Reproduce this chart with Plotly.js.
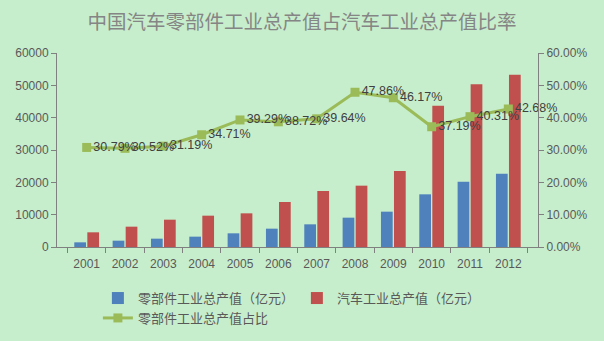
<!DOCTYPE html>
<html>
<head>
<meta charset="utf-8">
<script src="https://cdn.plot.ly/plotly-3.0.1.min.js"></script>
<style>html,body{margin:0;padding:0;background:#C7EECC;}#chart{width:604px;height:341px;}</style>
</head>
<body>
<div id="chart"></div>
<script>
const years = ['2001','2002','2003','2004','2005','2006','2007','2008','2009','2010','2011','2012'];
const partsOutput = [1440, 1960, 2580, 3200, 4230, 5670, 7010, 9070, 10930, 16290, 20210, 22680];
const autoOutput = [4540, 6290, 8450, 9690, 10410, 13920, 17320, 18970, 23510, 43710, 50310, 53300];
const shareRatio = [0.3079, 0.3052, 0.3119, 0.3471, 0.3929, 0.3872, 0.3964, 0.4786, 0.4617, 0.3719, 0.4031, 0.4268];
const shareLabels = ['30.79%','30.52%','31.19%','34.71%','39.29%','38.72%','39.64%','47.86%','46.17%','37.19%','40.31%','42.68%'];

const font = '"Noto Sans CJK SC", "Liberation Sans", sans-serif';
const grey = '#595959';

const data = [
  {type:'bar', name:'零部件工业总产值（亿元）', x:years, y:partsOutput, marker:{color:'#4F81BD'}},
  {type:'bar', name:'汽车工业总产值（亿元）', x:years, y:autoOutput, marker:{color:'#C0504D'}},
  {type:'scatter', mode:'lines+markers+text', name:'零部件工业总产值占比', x:years, y:shareRatio, yaxis:'y2',
   line:{color:'#9BBB59', width:3}, marker:{symbol:'square', size:9, color:'#9BBB59'},
   text:shareLabels, textposition:'middle right', textfont:{family:'"Liberation Sans", sans-serif', size:12.5, color:'#404040'}, cliponaxis:false}
];

const layout = {
  width:604, height:341,
  paper_bgcolor:'#C7EECC', plot_bgcolor:'#C7EECC',
  margin:{l:57, r:66, t:53, b:94, autoexpand:false},
  font:{family:font, color:grey, size:12},
  title:{text:'中国汽车零部件工业总产值占汽车工业总产值比率', x:0.5, xanchor:'center', y:0.935, yanchor:'middle',
         font:{family:font, size:19.5, color:'#858585'}},
  barmode:'group', bargap:0.32, bargroupgap:0.1,
  showlegend:true,
  legend:{orientation:'h', traceorder:'normal', x:0.085, xanchor:'left', y:-0.186, yanchor:'top', entrywidth:154, entrywidthmode:'pixels',
          font:{family:font, size:13, color:grey}, bgcolor:'rgba(0,0,0,0)'},
  xaxis:{type:'category', showline:true, linecolor:'#808080', linewidth:1, ticks:'outside', tickson:'boundaries',
         ticklen:5, tickcolor:'#808080', ticklabelstandoff:6, tickfont:{family:'"Liberation Sans", sans-serif', size:12, color:grey}, showgrid:false, zeroline:false},
  yaxis:{range:[0,60000], dtick:10000, tickformat:'d', showline:true, linecolor:'#808080', ticks:'outside', ticklen:5, tickcolor:'#808080',
         showgrid:false, zeroline:false, tickfont:{family:'"Liberation Sans", sans-serif', size:12, color:grey}},
  yaxis2:{overlaying:'y', side:'right', range:[0,0.6], dtick:0.1, tickformat:'.2%', showline:true, linecolor:'#808080',
          ticks:'outside', ticklen:5, tickcolor:'#808080', showgrid:false, zeroline:false,
          tickfont:{family:'"Liberation Sans", sans-serif', size:12, color:grey}}
};

Plotly.newPlot('chart', data, layout, {displayModeBar:false, staticPlot:true});
</script>
</body>
</html>
